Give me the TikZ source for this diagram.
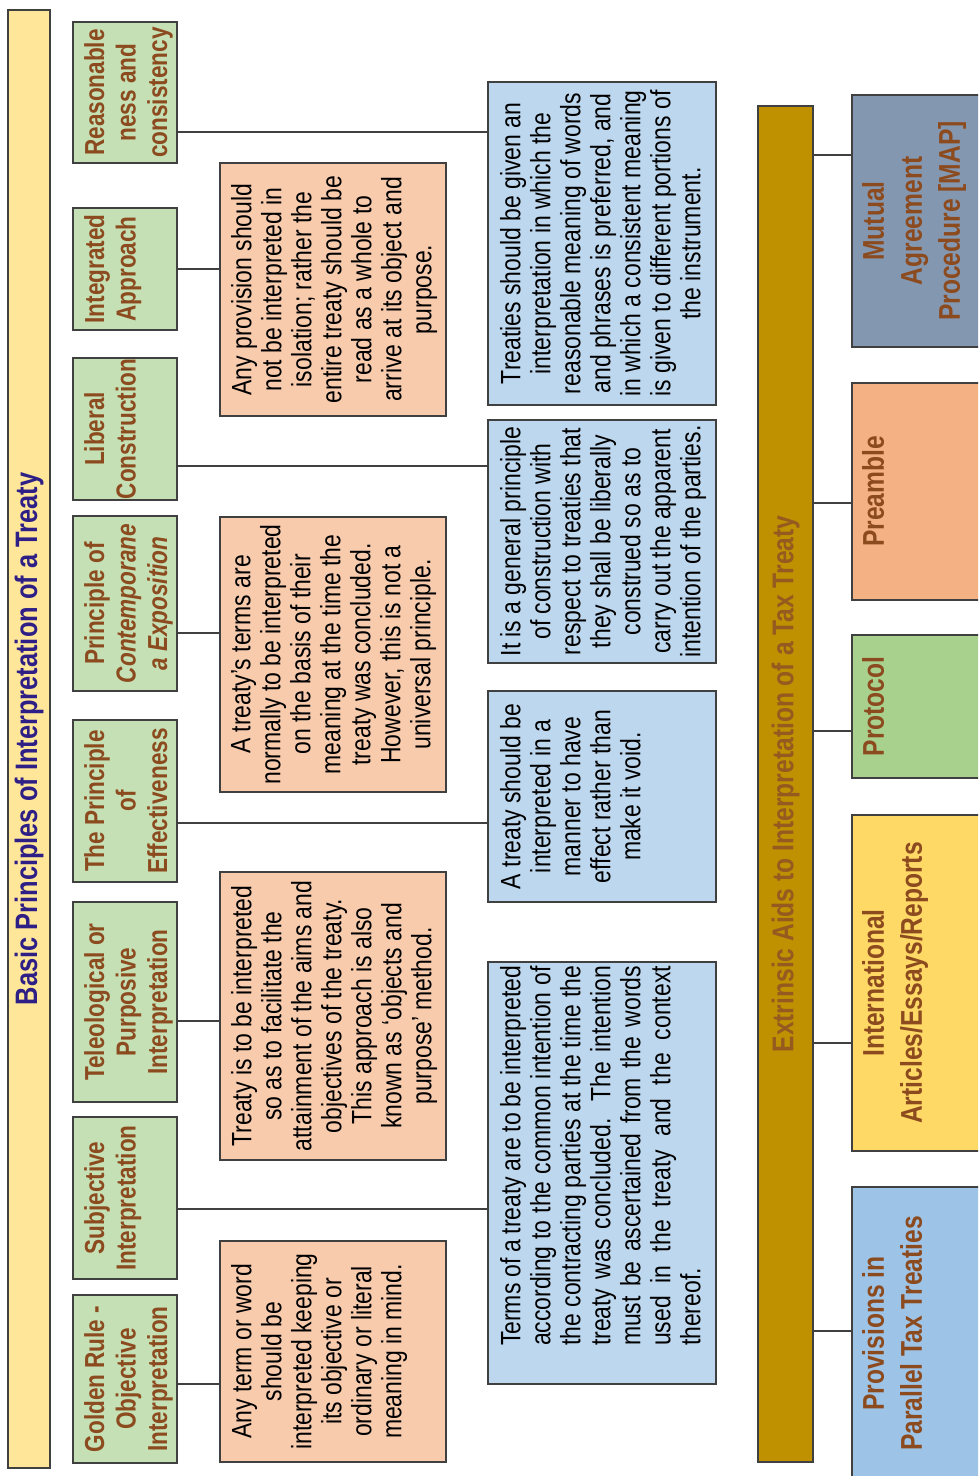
\documentclass[tikz,border=0pt]{standalone}
\usepackage{fontspec}
\newfontfamily\narrowsf[FakeStretch=0.82]{Liberation Sans}
\usetikzlibrary{positioning}

\definecolor{titlefill}{HTML}{FFE699}
\definecolor{titleblue}{HTML}{2E1F86}
\definecolor{greenfill}{HTML}{C5E0B4}
\definecolor{peachfill}{HTML}{F8CBAD}
\definecolor{bluefill}{HTML}{BDD7EE}
\definecolor{goldfill}{HTML}{BF9000}
\definecolor{mapfill}{HTML}{8497B0}
\definecolor{prefill}{HTML}{F4B183}
\definecolor{profill}{HTML}{A9D18E}
\definecolor{artfill}{HTML}{FFD966}
\definecolor{parfill}{HTML}{9DC3E6}
\definecolor{labelbrown}{HTML}{8C4A1F}
\definecolor{extbrown}{HTML}{955A20}
\definecolor{boxline}{HTML}{404040}

\tikzset{
box/.style={draw=boxline,line width=1.3pt,inner sep=0pt},
greenbox/.style={box,fill=greenfill,minimum height=104pt},
peachbox/.style={box,fill=peachfill,minimum height=226pt},
bluebox/.style={box,fill=bluefill,minimum height=228pt},
aidbox/.style={box,minimum height=148pt},
greentext/.style={inner sep=0pt,anchor=north,align=center,text=labelbrown,
  font=\narrowsf\bfseries\fontsize{27.5}{31.5}\selectfont},
desctext/.style={inner sep=0pt,anchor=north,align=center,
  font=\narrowsf\fontsize{28}{30}\selectfont},
aidtext/.style={inner sep=0pt,anchor=north,align=center,text=labelbrown,
  font=\narrowsf\bfseries\fontsize{30}{38}\selectfont},
conn/.style={draw=boxline,line width=1.2pt},
}

\begin{document}
\begin{tikzpicture}[x=1pt,y=1pt,rotate=90,transform shape]
\useasboundingbox (0,-978) rectangle (1476,0);
\clip (0,-978) rectangle (1476,0);

% title bars
\node[box,fill=titlefill,minimum width=1458pt,minimum height=42pt,text=titleblue,
  font=\narrowsf\bfseries\fontsize{31}{36}\selectfont] (title) at (737,-29)
  {Basic Principles of Interpretation of a Treaty};
\node[box,fill=goldfill,minimum width=1356pt,minimum height=55pt,text=extbrown,
  font=\narrowsf\bfseries\fontsize{30}{36}\selectfont] (ext) at (692,-785.5)
  {Extrinsic Aids to Interpretation of a Tax Treaty};

% principles
\foreach \n/\u/\w/\t in {
  rea/1383.5/141/{Reasonable\\ness and\\consistency},
  itg/1207/122/{Integrated\\Approach},
  lib/1047/142/{Liberal\\Construction},
  con/872.5/175/{Principle of\\\textit{Contemporane}\\\textit{a Exposition}},
  eff/675/162/{The Principle\\of\\Effectiveness},
  tel/474/200/{Teleological or\\Purposive\\Interpretation},
  sub/278/162/{Subjective\\Interpretation},
  gol/97/168/{Golden Rule -\\Objective\\Interpretation}} {
\node[greenbox,minimum width=\w pt] (\n) at (\u,-125) {};
\node[greentext] (\n-t) at (\u,-84) {\t};
}

% explanations, upper row
\foreach \n/\u/\w/\t in {
  anyp/1186.5/253/{Any provision should\\not be interpreted in\\isolation; rather the\\entire treaty should be\\read as a whole to\\arrive at its object and\\purpose.},
  trt/821.5/275/{A treaty’s terms are\\normally to be interpreted\\on the basis of their\\meaning at the time the\\treaty was concluded.\\However, this is not a\\universal principle.},
  tis/460/288/{Treaty is to be interpreted\\so as to facilitate the\\attainment of the aims and\\objectives of the treaty.\\This approach is also\\known as ‘objects and\\purpose’ method.},
  atw/124.5/221/{Any term or word\\should be\\interpreted keeping\\its objective or\\ordinary or literal\\meaning in mind.}} {
\node[peachbox,minimum width=\w pt] (\n) at (\u,-333) {};
\node[desctext] (\n-t) at (\u,-231) {\t};
}

% explanations, lower row
\foreach \n/\u/\w/\t in {
  tre/1232.5/323/{Treaties should be given an\\interpretation in which the\\reasonable meaning of words\\and phrases is preferred, and\\in which a consistent meaning\\is given to different portions of\\the instrument.},
  gen/934.5/243/{It is a general principle\\of construction with\\respect to treaties that\\they shall be liberally\\construed so as to\\carry out the apparent\\intention of the parties.},
  tsb/679.5/211/{A treaty should be\\interpreted in a\\manner to have\\effect rather than\\make it void.}} {
\node[bluebox,minimum width=\w pt] (\n) at (\u,-602) {};
\node[desctext] (\n-t) at (\u,-500) {\t};
}
\node[bluebox,minimum width=422pt] (tot) at (303,-602) {};
\node[desctext,align=left] (tot-t) at (320,-500) {%
\makebox[380pt][s]{Terms of a treaty are to be interpreted}\\
\makebox[380pt][s]{according to the common intention of}\\
\makebox[380pt][s]{the contracting parties at the time the}\\
\makebox[380pt][s]{treaty was concluded. The intention}\\
\makebox[380pt][s]{must be ascertained from the words}\\
\makebox[380pt][s]{used in the treaty and the context}\\
thereof.};

% extrinsic aids
\foreach \n/\u/\w/\f/\t in {
  map/1255/252/mapfill/{Mutual\\Agreement\\Procedure [MAP]},
  pre/984.5/217/prefill/{Preamble},
  pro/769.5/143/profill/{Protocol},
  art/493/336/artfill/{International\\Articles/Essays/Reports},
  par/142.5/293/parfill/{Provisions in\\Parallel Tax Treaties}} {
\node[aidbox,fill=\f,minimum width=\w pt] (\n) at (\u,-926) {};
\node[aidtext] (\n-t) at (\u,-862) {\t};
}

% connectors
\foreach \a/\b/\u in {rea/tre/1344,itg/anyp/1207,lib/gen/1010,con/trt/843,
  eff/tsb/653,tel/tis/455,sub/tot/267,gol/atw/92,
  ext/map/1321,ext/pre/973,ext/pro/745,ext/art/433,ext/par/145} {
\coordinate (k) at (\u,0);
\draw[conn] (k |- \a.south) -- (k |- \b.north);
}
\end{tikzpicture}
\end{document}
